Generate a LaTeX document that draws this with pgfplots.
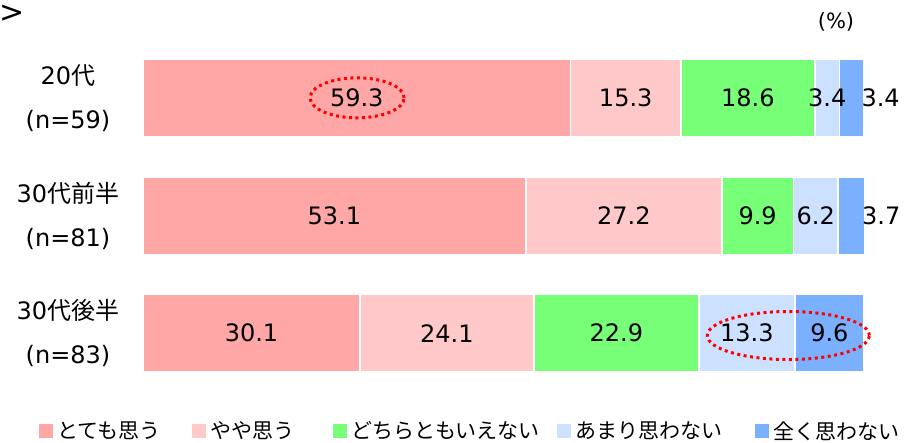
\documentclass[border=0pt]{standalone}
\usepackage{fontspec}
\setmainfont{DejaVu Sans}
\newfontfamily\jp{Noto Sans CJK JP}
\usepackage{pgfplots}
\usepackage{pgfplotstable}
\pgfplotsset{compat=1.18}
\definecolor{c1}{HTML}{FFA7A7}
\definecolor{c2}{HTML}{FFC9C9}
\definecolor{c3}{HTML}{77FF77}
\definecolor{c4}{HTML}{CCE0FF}
\definecolor{c5}{HTML}{7BB0FF}
\pgfplotstableread{
row v1 v2 v3 v4 v5
0 59.3 15.3 18.6 3.4 3.4
1 53.1 27.2 9.9 6.2 3.7
2 30.1 24.1 22.9 13.3 9.6
}\data
\pgfplotsset{
  geom/.style={at={(143pt,50pt)}, anchor=south west,
    scale only axis, width=721pt, height=353pt,
    xmin=0, xmax=100, ymin=-0.5, ymax=2.5, y dir=reverse, clip=false},
}
\begin{document}
\begin{tikzpicture}
\path[use as bounding box] (0pt,0pt) rectangle (905pt,442pt);
\begin{axis}[
  geom,
  xbar stacked, bar width=77.5pt,
  axis line style={draw=none}, tick style={draw=none},
  xtick=\empty,
  ytick={0,1,2},
  yticklabels={{20{\jp 代}\\(n=59)},{30{\jp 代前半}\\(n=81)},{30{\jp 代後半}\\(n=83)}},
  yticklabel style={anchor=center, align=center, text width=130pt, xshift=-75pt, font=\fontsize{24}{44}\selectfont},
  legend image code/.code={\fill[#1,draw=none] (0pt,-7pt) rectangle (14pt,7pt);},
  legend style={at={(-0.14424,-0.1105)}, anchor=west, draw=none, fill=none, inner sep=0pt,
    font=\fontsize{21}{24}\selectfont, nodes={inner sep=0pt},
    /tikz/every odd column/.style={column sep=4pt},
    /tikz/every even column/.style={column sep=0pt}},
  legend columns=5,
]
\addplot[fill=c1, draw=white, line width=1.5pt] table[x=v1, y=row] {\data};
\addplot[fill=c2, draw=white, line width=1.5pt] table[x=v2, y=row] {\data};
\addplot[fill=c3, draw=white, line width=1.5pt] table[x=v3, y=row] {\data};
\addplot[fill=c4, draw=white, line width=1.5pt] table[x=v4, y=row] {\data};
\addplot[fill=c5, draw=white, line width=1.5pt] table[x=v5, y=row] {\data};
\legend{\makebox[135pt][l]{\jp とても思う},\makebox[123pt][l]{\jp やや思う},\makebox[206pt][l]{\jp どちらともいえない},\makebox[180pt][l]{\jp あまり思わない},{\jp 全く思わない}}
\coordinate (e1) at (axis cs:29.7,0);
\coordinate (e2) at (axis cs:89.5,2.02);
\end{axis}
\begin{axis}[
  geom, hide axis,
  point meta=explicit,
  nodes near coords={\pgfmathprintnumber[fixed,fixed zerofill,precision=1,assume math mode=true]{\pgfplotspointmeta}},
  every node near coord/.append style={font=\fontsize{24}{28}\selectfont, text=black, anchor=center, inner sep=0pt},
]
\addplot[draw=none, mark=none] table[x expr=\thisrow{v1}/2, y=row, meta=v1] {\data};
\addplot[draw=none, mark=none] table[x expr=\thisrow{v1}+\thisrow{v2}/2, y=row, meta=v2] {\data};
\addplot[draw=none, mark=none] table[x expr=\thisrow{v1}+\thisrow{v2}+\thisrow{v3}/2, y=row, meta=v3] {\data};
\addplot[draw=none, mark=none] table[x expr=\thisrow{v1}+\thisrow{v2}+\thisrow{v3}+\thisrow{v4}/2, y=row, meta=v4] {\data};
\addplot[draw=none, mark=none] table[x expr={\thisrow{v1}+\thisrow{v2}+\thisrow{v3}+\thisrow{v4}+ifthenelse(\thisrow{v5}<5,\thisrow{v5}+2.3,\thisrow{v5}/2)}, y=row, meta=v5] {\data};
\end{axis}
\draw[red, line width=3pt, dash pattern=on 3pt off 3.5pt] (e1) ellipse [x radius=47pt, y radius=20pt];
\draw[red, line width=3pt, dash pattern=on 3pt off 3.5pt] (e2) ellipse [x radius=81pt, y radius=24pt];
\node[font=\fontsize{21}{24}\selectfont] at (836pt,420pt) {(\%)};
\node[anchor=west, inner sep=0pt, font=\fontsize{30}{34}\selectfont] at (-1pt,428pt) {>};
\end{tikzpicture}
\end{document}
